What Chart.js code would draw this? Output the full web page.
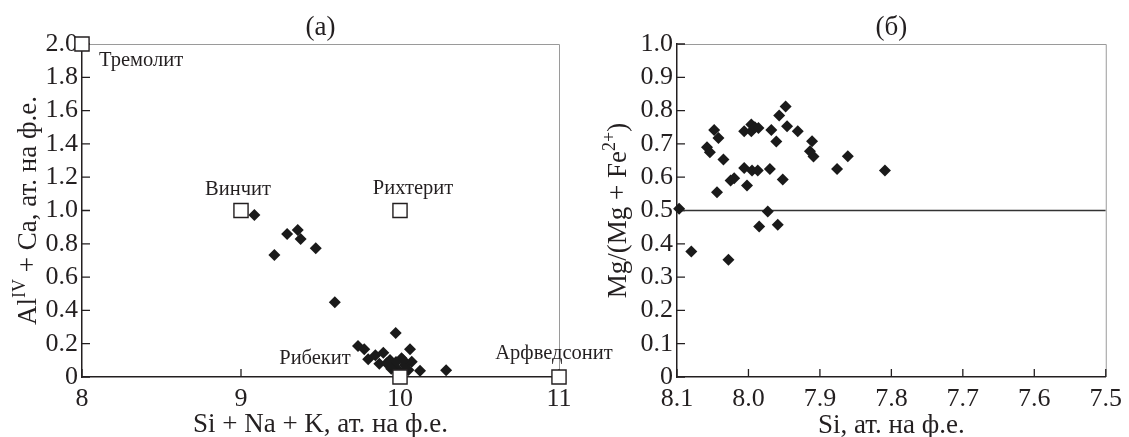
<!DOCTYPE html>
<html>
<head>
<meta charset="utf-8">
<script src="https://cdn.jsdelivr.net/npm/chart.js@4"></script>
<style>
  body { margin: 0; background: #fff; }
  #wrap { position: relative; width: 1129px; height: 437px; overflow: hidden; }
  .caixa { position: absolute; top: 0; height: 437px; }
</style>
</head>
<body>
<div id="wrap">
  <div class="caixa" style="left:0;width:640px;z-index:1"><canvas id="graficoA" width="640" height="437"></canvas></div>
  <div class="caixa" style="left:575px;width:554px;z-index:2"><canvas id="graficoB" width="554" height="437"></canvas></div>
</div>
<script>
// --- dados (а) ---
const endNomes = ["Тремолит", "Винчит", "Рихтерит", "Рибекит", "Арфведсонит"];
const endX = [8, 9, 10, 10, 11];
const endY = [2, 1, 1, 0, 0];

const amostraXA = [9.084, 9.21, 9.29, 9.357, 9.375, 9.47, 9.59, 9.973, 9.736, 9.775,
  10.063, 9.80, 9.845, 9.895, 9.87, 9.916, 9.937, 9.958, 10.01, 10.031,
  10.074, 9.99, 10.053, 10.126, 10.29, 9.975, 10.02, 10.035, 9.945];
const amostraYA = [0.973, 0.733, 0.859, 0.883, 0.829, 0.773, 0.449, 0.264, 0.186, 0.167,
  0.167, 0.106, 0.13, 0.146, 0.08, 0.082, 0.102, 0.062, 0.112, 0.072,
  0.092, 0.042, 0.042, 0.038, 0.04, 0.09, 0.10, 0.045, 0.05];

const ticksXA = [8, 9, 10, 11];
const ticksYA = [0, 0.2, 0.4, 0.6, 0.8, 1.0, 1.2, 1.4, 1.6, 1.8, 2.0];

// --- dados (б) ---
const amostraXB = [8.097, 8.080, 8.028, 8.058, 8.054, 8.048, 8.042, 8.035, 8.044, 8.025,
  8.020, 8.006, 8.006, 8.002, 7.996, 7.996, 7.991, 7.986, 7.995, 7.987,
  7.985, 7.973, 7.970, 7.968, 7.961, 7.959, 7.957, 7.952, 7.948, 7.946,
  7.931, 7.911, 7.914, 7.909, 7.876, 7.861, 7.809];
const amostraYB = [0.505, 0.377, 0.352, 0.690, 0.675, 0.742, 0.718, 0.653, 0.555, 0.590,
  0.597, 0.738, 0.628, 0.575, 0.758, 0.738, 0.750, 0.748, 0.620, 0.620,
  0.452, 0.497, 0.625, 0.742, 0.707, 0.457, 0.785, 0.593, 0.812, 0.753,
  0.738, 0.708, 0.678, 0.662, 0.625, 0.663, 0.620];

const ticksXB = [8.1, 8.0, 7.9, 7.8, 7.7, 7.6, 7.5];
const ticksYB = [0, 0.1, 0.2, 0.3, 0.4, 0.5, 0.6, 0.7, 0.8, 0.9, 1.0];
const limiteX = [8.1, 7.5];
const limiteY = [0.5, 0.5];

const FONTE = '"Liberation Serif", "Times New Roman", serif';
const COR = "#231f20";
const TAM_TICK = 26;
const TAM_TIT = 27;

const pares = (xs, ys) => xs.map((x, i) => ({ x: x, y: ys[i] }));
const fmt = (v) => (v === 0 ? "0" : v.toFixed(1));

// texto com sobrescrito (opcionalmente girado)
function textoRico(ctx, partes, x, y, tam, girar) {
  ctx.save();
  ctx.translate(x, y);
  if (girar) ctx.rotate(-Math.PI / 2);
  const fN = tam + "px " + FONTE;
  const fS = Math.round(tam * 0.65) + "px " + FONTE;
  let total = 0;
  partes.forEach((p) => {
    ctx.font = p.sup ? fS : fN;
    total += ctx.measureText(p.t).width;
  });
  let cx = -total / 2;
  const base = tam * 0.33;
  ctx.fillStyle = COR;
  ctx.textAlign = "left";
  ctx.textBaseline = "alphabetic";
  partes.forEach((p) => {
    ctx.font = p.sup ? fS : fN;
    ctx.fillText(p.t, cx, p.sup ? base - tam * 0.42 : base);
    cx += ctx.measureText(p.t).width;
  });
  ctx.restore();
}

// moldura + marcas internas
function desenharMoldura(chart) {
  const { ctx, chartArea: a, scales } = chart;
  ctx.save();
  ctx.strokeStyle = "#9a9a9a";
  ctx.lineWidth = 1;
  ctx.beginPath();
  ctx.moveTo(a.left, a.top + 0.5);
  ctx.lineTo(a.right + 0.5, a.top + 0.5);
  ctx.lineTo(a.right + 0.5, a.bottom);
  ctx.stroke();
  ctx.strokeStyle = COR;
  ctx.lineWidth = 1.3;
  ctx.beginPath();
  scales.x.ticks.forEach((t) => {
    const px = scales.x.getPixelForValue(t.value);
    ctx.moveTo(px, a.bottom);
    ctx.lineTo(px, a.bottom - 8);
  });
  scales.y.ticks.forEach((t) => {
    const py = scales.y.getPixelForValue(t.value);
    ctx.moveTo(a.left, py);
    ctx.lineTo(a.left + 8, py);
  });
  ctx.stroke();
  ctx.restore();
}

const eixoBase = (min, max, lista, extra) => Object.assign({
  type: "linear",
  min: min,
  max: max,
  afterBuildTicks: (s) => { s.ticks = lista.map((v) => ({ value: v })); },
  grid: { display: true, drawOnChartArea: false, drawTicks: false },
  border: { display: true, color: COR, width: 1.5 },
  ticks: { color: COR, padding: 4, font: { family: FONTE, size: TAM_TICK }, callback: fmt, autoSkip: false, maxRotation: 0 },
}, extra);

// === Gráfico (а) ===
const deslocRotulos = [
  { dx: 59, dy: 17 }, { dx: -3, dy: -21 }, { dx: 13, dy: -22 }, { dx: -85, dy: -18 }, { dx: -5, dy: -23 },
];

const eixoXA = eixoBase(8, 11, ticksXA, {
  afterFit: (s) => { s.height = 60; },
});
eixoXA.ticks = Object.assign({}, eixoXA.ticks, { padding: 7, callback: (v) => String(v) });

const eixoXB = eixoBase(7.5, 8.1, ticksXB, {
  reverse: true,
  afterFit: (s) => { s.height = 60; },
});
eixoXB.ticks = Object.assign({}, eixoXB.ticks, { padding: 7 });

new Chart(document.getElementById("graficoA"), {
  type: "scatter",
  data: {
    datasets: [
      {
        data: pares(endX, endY),
        pointStyle: "rect", pointRadius: 10, pointHoverRadius: 10,
        backgroundColor: "#fff", borderColor: COR, borderWidth: 1.4, clip: false,
      },
      {
        data: pares(amostraXA, amostraYA),
        pointStyle: "rectRot", pointRadius: 6, pointHoverRadius: 6,
        backgroundColor: "#1a1a1a", borderColor: "#1a1a1a", borderWidth: 0, clip: false,
      },
    ],
  },
  options: {
    responsive: false,
    animation: false,
    layout: { padding: { left: 0, top: 44, right: 81, bottom: 0 } },
    plugins: { legend: { display: false }, tooltip: { enabled: false } },
    scales: {
      x: eixoXA,
      y: eixoBase(0, 2, ticksYA, {
        afterFit: (s) => { s.width = 82; },
      }),
    },
  },
  plugins: [{
    id: "textosA",
    beforeDatasetsDraw: desenharMoldura,
    afterDraw(chart) {
      const { ctx, chartArea: a, scales } = chart;
      const meio = (a.left + a.right) / 2;
      textoRico(ctx, [{ t: "(а)" }], meio, a.top - 18, TAM_TIT, false);
      textoRico(ctx, [{ t: "Si + Na + K, ат. на ф.е." }], meio, a.bottom + 46, TAM_TIT, false);
      textoRico(ctx, [{ t: "Al" }, { t: "IV", sup: true }, { t: " + Ca, ат. на ф.е." }], 27, (a.top + a.bottom) / 2, TAM_TIT, true);
      ctx.save();
      ctx.font = "20.5px " + FONTE;
      ctx.fillStyle = COR;
      ctx.textAlign = "center";
      ctx.textBaseline = "middle";
      endNomes.forEach((n, i) => {
        const px = scales.x.getPixelForValue(endX[i]);
        const py = scales.y.getPixelForValue(endY[i]);
        ctx.fillText(n, px + deslocRotulos[i].dx, py + deslocRotulos[i].dy);
      });
      ctx.restore();
    },
  }],
});

// === Gráfico (б) ===
new Chart(document.getElementById("graficoB"), {
  type: "scatter",
  data: {
    datasets: [
      {
        data: pares(amostraXB, amostraYB),
        pointStyle: "rectRot", pointRadius: 6, pointHoverRadius: 6,
        backgroundColor: "#1a1a1a", borderColor: "#1a1a1a", borderWidth: 0, clip: false,
      },
      {
        data: pares(limiteX, limiteY),
        showLine: true, pointRadius: 0, borderColor: "#333", borderWidth: 1.5,
      },
    ],
  },
  options: {
    responsive: false,
    animation: false,
    layout: { padding: { left: 0, top: 44, right: 22, bottom: 0 } },
    plugins: { legend: { display: false }, tooltip: { enabled: false } },
    scales: {
      x: eixoXB,
      y: eixoBase(0, 1, ticksYB, {
        afterFit: (s) => { s.width = 102; },
      }),
    },
  },
  plugins: [{
    id: "textosB",
    beforeDatasetsDraw: desenharMoldura,
    afterDraw(chart) {
      const { ctx, chartArea: a } = chart;
      const meio = (a.left + a.right) / 2;
      textoRico(ctx, [{ t: "(б)" }], meio, a.top - 18, TAM_TIT, false);
      textoRico(ctx, [{ t: "Si, ат. на ф.е." }], meio, a.bottom + 47, TAM_TIT, false);
      textoRico(ctx, [{ t: "Mg/(Mg + Fe" }, { t: "2+", sup: true }, { t: ")" }], 42, (a.top + a.bottom) / 2, TAM_TIT, true);
    },
  }],
});
</script>
</body>
</html>
